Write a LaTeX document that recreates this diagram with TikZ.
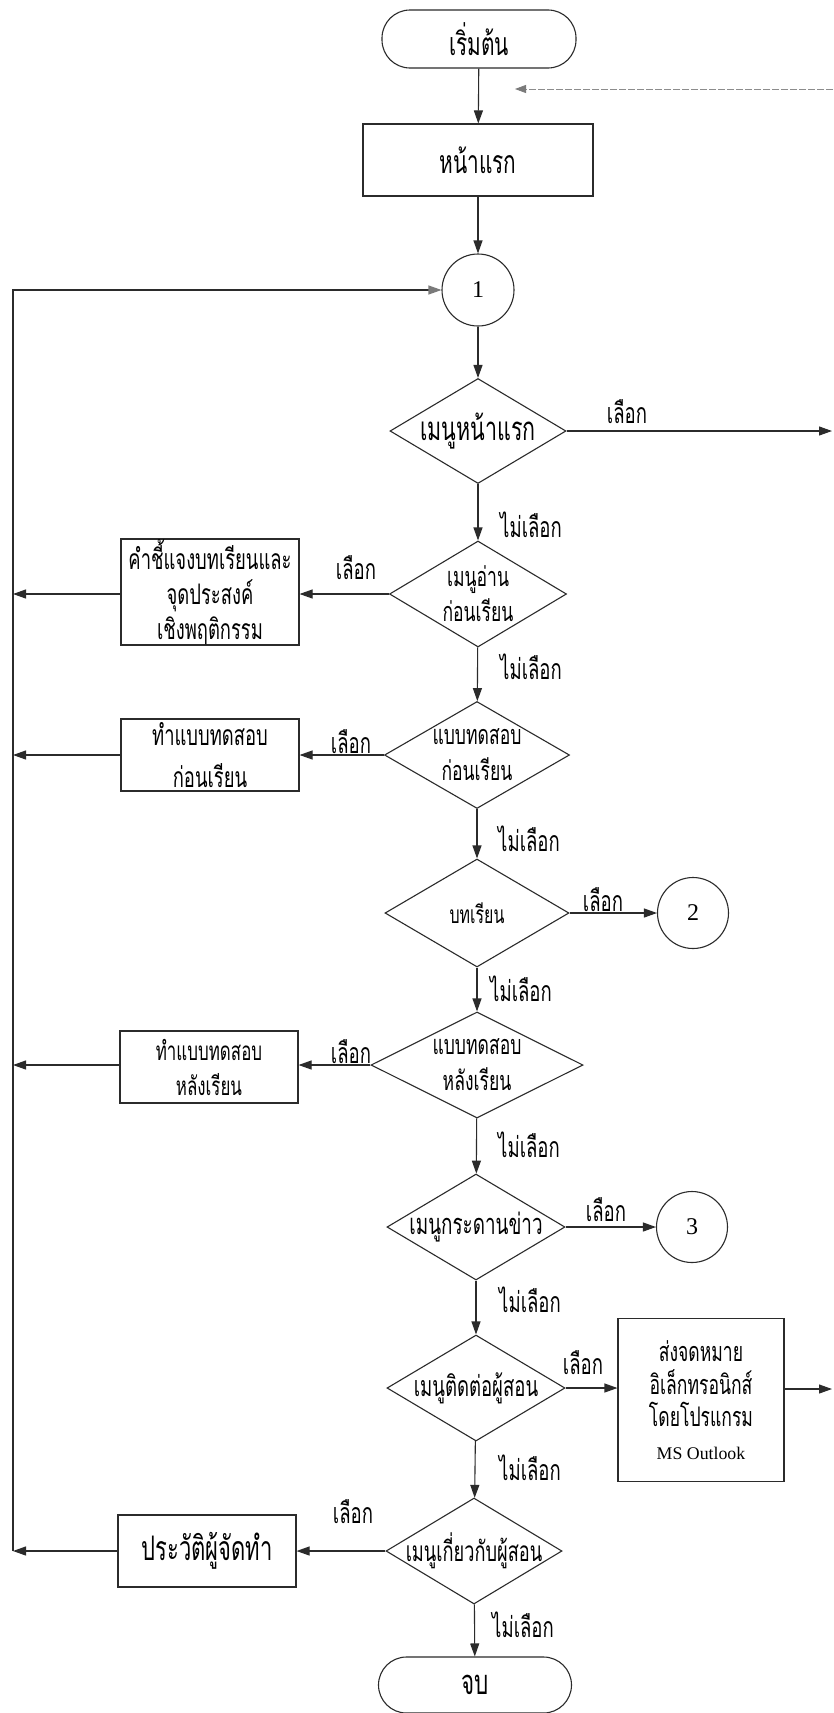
\documentclass[tikz,border=0pt]{standalone}
\usepackage{fontspec}
\setmainfont{Liberation Serif}
\newfontfamily\thai[Script=Thai,FakeStretch=0.65]{Loma}
\usetikzlibrary{shapes.geometric,arrows.meta}
\definecolor{ink}{HTML}{2B2B2B}
\definecolor{tipgray}{HTML}{7A7A7A}
\newcommand{\tsz}[2]{\thai\fontsize{#1}{#2}\selectfont}
\begin{document}
\begin{tikzpicture}[x=1pt,y=-1pt,
  base/.style={draw=ink,line width=1.1pt,inner sep=0pt,align=center,text=black},
  term/.style={base,rectangle,rounded corners=28pt,minimum width=194pt,minimum height=58pt},
  proc/.style={base,rectangle,minimum width=178pt,minimum height=72pt},
  dia/.style={base,diamond,minimum width=178pt,minimum height=106pt},
  conn/.style={base,circle,minimum size=72pt,font=\fontsize{24}{28}\selectfont},
  dtext/.style={inner sep=0pt,align=center},
  lab/.style={inner sep=0pt,font=\tsz{28.5}{30}},
  flow/.style={draw=ink,line width=1.1pt,-{Triangle[length=13pt,width=9pt]}},
  flowg/.style={draw=ink,line width=1.1pt,-{Triangle[length=13pt,width=9pt,color=tipgray]}}
]
\useasboundingbox[fill=white] (0,0) rectangle (833,1713);

% main column
\node[term,font=\tsz{32}{34}] (start) at (479,39) {เริ่มต้น};
\node[proc,font=\tsz{32}{34},minimum width=230pt] (first) at (478,160) {หน้าแรก};
\node[conn] (c1) at (478,290) {1};
\node[dia,minimum width=176pt,minimum height=105pt] (d1) at (478,431) {};
\node[dtext,font=\tsz{33}{34}] (d1t) at (d1) {เมนูหน้าแรก};
\node[dia,minimum width=177pt] (d2) at (478,594) {};
\node[dtext,font=\tsz{27}{35}] (d2t) at (d2) {เมนูอ่าน\\ก่อนเรียน};
\node[dia,minimum width=185pt,minimum height=107pt] (d3) at (477,755) {};
\node[dtext,font=\tsz{27}{36}] (d3t) at (d3) {แบบทดสอบ\\ก่อนเรียน};
\node[dia,minimum width=184pt,minimum height=108pt] (d4) at (477,913) {};
\node[dtext,font=\tsz{24.5}{30}] (d4t) at (d4) {บทเรียน};
\node[dia,minimum width=212pt] (d5) at (477,1065) {};
\node[dtext,font=\tsz{27}{36}] (d5t) at (d5) {แบบทดสอบ\\หลังเรียน};
\node[dia] (d6) at (476,1227) {};
\node[dtext,font=\tsz{29}{30}] (d6t) at (d6) {เมนูกระดานข่าว};
\node[dia] (d7) at (476,1388) {};
\node[dtext,font=\tsz{28.5}{30}] (d7t) at (d7) {เมนูติดต่อผู้สอน};
\node[dia,minimum width=176pt] (d8) at (474,1551) {};
\node[dtext,font=\tsz{28}{30}] (d8t) at (d8) {เมนูเกี่ยวกับผู้สอน};
\node[term,font=\tsz{34.5}{36},minimum width=193pt,minimum height=56pt] (end) at (475,1685) {จบ};

% side boxes
\node[proc,font=\tsz{28.3}{35},minimum height=106pt] (b2) at (210,592) {คำชี้แจงบทเรียนและ\\จุดประสงค์\\เชิงพฤติกรรม};
\node[proc,font=\tsz{28.3}{42}] (b3) at (210,755) {ทำแบบทดสอบ\\ก่อนเรียน};
\node[proc,font=\tsz{26}{35}] (b5) at (209,1067) {ทำแบบทดสอบ\\หลังเรียน};
\node[proc,font=\tsz{33.8}{36}] (b8) at (207,1551) {ประวัติผู้จัดทำ};
\node[conn,minimum size=71pt] (c2) at (693,913) {2};
\node[conn,minimum size=71pt] (c3) at (692,1227) {3};
\node[proc,minimum width=166pt,minimum height=163pt,font=\tsz{27}{32.6}] (mail) at (701,1400)
  {ส่งจดหมาย\\อิเล็กทรอนิกส์\\โดยโปรแกรม\\{\rmfamily\fontsize{17.8}{32.6}\selectfont MS Outlook}};

% free ends
\coordinate (Ltop) at (13,290);
\coordinate (Lbot) at (13,1551);
\coordinate (Rd1) at (832,431);
\coordinate (Rmail) at (832,1389);
\coordinate (Rdash) at (833,89);
\coordinate (Rdashtip) at (515,89);

% vertical flow
\draw[flow] (start) -- (first);
\draw[flow] (first) -- (c1);
\draw[flow] (c1) -- (d1);
\draw[flow] (d1) -- (d2);
\draw[flow] (d2) -- (d3);
\draw[flow] (d3) -- (d4);
\draw[flow] (d4) -- (d5);
\draw[flow] (d5) -- (d6);
\draw[flow] (d6) -- (d7);
\draw[flow] (d7) -- (d8);
\draw[flow] (d8) -- (end);

% branches
\draw[flow] (d1.east) -- (Rd1);
\draw[flow] (d2.west) -- (d2.west -| b2.east);
\draw[flow] (d3.west) -- (d3.west -| b3.east);
\draw[flow] (d4.east) -- (c2.west);
\draw[flow] (d5.west) -- (d5.west -| b5.east);
\draw[flow] (d6.east) -- (c3.west);
\draw[flow] (d7.east) -- (d7.east -| mail.west);
\draw[flow] (d8.west) -- (d8.west -| b8.east);
\draw[flow] (mail.east |- Rmail) -- (Rmail);

% returns to the left trunk
\draw[flow] (d2.west -| b2.west) -- (d2.west -| Ltop);
\draw[flow] (d3.west -| b3.west) -- (d3.west -| Ltop);
\draw[flow] (d5.west -| b5.west) -- (d5.west -| Ltop);
\draw[flow] (d8.west -| b8.west) -- (Lbot);
\draw[flowg] (Lbot) -- (Ltop) -- (c1.west);
\draw[draw=black!45,line width=0.8pt,dash pattern=on 7pt off 2pt,-{Triangle[length=11pt,width=8pt,color=tipgray]}] (Rdash) -- (Rdashtip);

% labels
\node[lab] (l1) at (627,412) {เลือก};
\node[lab] (l2) at (531,525) {ไม่เลือก};
\node[lab] (l3) at (356,568) {เลือก};
\node[lab] (l4) at (531,667) {ไม่เลือก};
\node[lab] (l5) at (351,742) {เลือก};
\node[lab] (l6) at (529,839) {ไม่เลือก};
\node[lab] (l7) at (603,900) {เลือก};
\node[lab] (l8) at (521,989) {ไม่เลือก};
\node[lab] (l9) at (351,1052) {เลือก};
\node[lab] (l10) at (529,1145) {ไม่เลือก};
\node[lab] (l11) at (606,1210) {เลือก};
\node[lab] (l12) at (530,1300) {ไม่เลือก};
\node[lab] (l13) at (583,1363) {เลือก};
\node[lab] (l14) at (530,1468) {ไม่เลือก};
\node[lab] (l15) at (353,1512) {เลือก};
\node[lab] (l16) at (523,1625) {ไม่เลือก};
\end{tikzpicture}
\end{document}
